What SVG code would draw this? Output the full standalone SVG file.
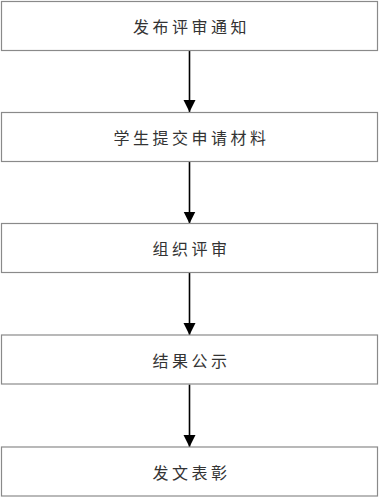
<svg xmlns="http://www.w3.org/2000/svg" width="380" height="498" viewBox="0 0 380 498">
<style>
.box{fill:#fff;stroke:#8a8a8a;stroke-width:1.2}
.lbl{font-family:"Noto Sans CJK SC","Noto Sans CJK JP",sans-serif;font-size:16px;font-weight:400;fill:#333;text-anchor:middle;dominant-baseline:central;letter-spacing:3.5px}
.con{stroke:#000;stroke-width:1.6;fill:none;marker-end:url(#ah)}
</style>
<defs>
<marker id="ah" markerUnits="userSpaceOnUse" markerWidth="14" markerHeight="14" refX="12" refY="6" orient="auto">
<path d="M0,0 L12,6 L0,12 Z" fill="#000"/>
</marker>
</defs>
<rect width="380" height="498" fill="#fff"/>
<g id="connectors">
<line class="con" x1="189.5" y1="50" x2="189.5" y2="112"/>
<line class="con" x1="189.5" y1="161.5" x2="189.5" y2="223.5"/>
<line class="con" x1="189.5" y1="273" x2="189.5" y2="335"/>
<line class="con" x1="189.5" y1="384.5" x2="189.5" y2="447"/>
</g>
<g id="n1"><rect class="box" x="1.5" y="1.5" width="376" height="49"/><text class="lbl" x="191.5" y="26">发布评审通知</text></g>
<g id="n2"><rect class="box" x="1.5" y="112.5" width="376" height="49"/><text class="lbl" x="191.5" y="137">学生提交申请材料</text></g>
<g id="n3"><rect class="box" x="1.5" y="223.5" width="376" height="49"/><text class="lbl" x="191.5" y="248">组织评审</text></g>
<g id="n4"><rect class="box" x="1.5" y="335" width="376" height="49"/><text class="lbl" x="191.5" y="359.5">结果公示</text></g>
<g id="n5"><rect class="box" x="1.5" y="447" width="376" height="49"/><text class="lbl" x="191.5" y="471.5">发文表彰</text></g>
</svg>
